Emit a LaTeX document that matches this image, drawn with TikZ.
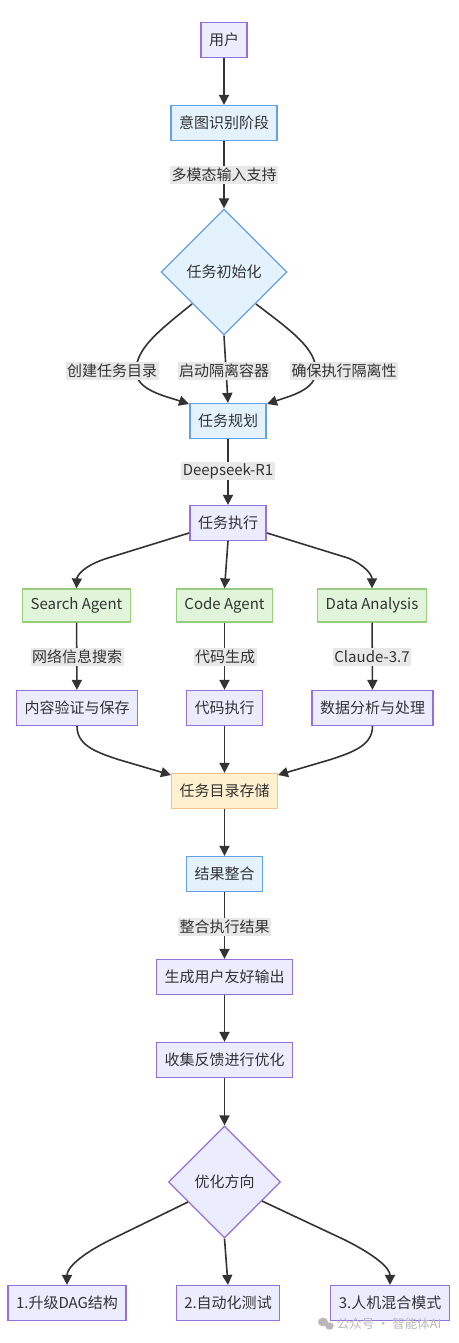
\documentclass[tikz,border=0pt]{standalone}
\usepackage{fontspec}
\setmainfont{Noto Sans CJK SC}
\usetikzlibrary{shapes.geometric,arrows.meta}
\definecolor{txt}{HTML}{333333}
\definecolor{pfill}{HTML}{ECECFF}
\definecolor{pdraw}{HTML}{9370DB}
\definecolor{bfill}{HTML}{E3F2FD}
\definecolor{bdraw}{HTML}{64A0E6}
\definecolor{gfill}{HTML}{E1F5DB}
\definecolor{gdraw}{HTML}{97CC7E}
\definecolor{ofill}{HTML}{FFF1D0}
\definecolor{odraw}{HTML}{F5C08A}
\definecolor{lblfill}{HTML}{E8E8E8}
\definecolor{wm}{HTML}{B8B8B8}
\tikzset{
  base/.style={rectangle, line width=1.2pt, text=txt, font=\fontsize{15}{18}\selectfont,
    minimum height=35pt, inner xsep=8pt, inner ysep=0pt},
  pbox/.style={base, fill=pfill, draw=pdraw},
  bbox/.style={base, fill=bfill, draw=bdraw},
  gbox/.style={base, fill=gfill, draw=gdraw, minimum height=33pt},
  obox/.style={base, fill=ofill, draw=odraw},
  dia/.style={diamond, aspect=1, inner sep=0pt, line width=1.2pt, text=txt,
    font=\fontsize{15}{18}\selectfont},
  lbl/.style={fill=lblfill, text=txt, font=\fontsize{15}{18}\selectfont,
    inner xsep=1.5pt, inner ysep=0pt, minimum height=18pt},
  edge/.style={draw=txt, line width=1.6pt, -{Triangle[length=10pt,width=10pt]}}
}
\begin{document}
\begin{tikzpicture}[x=1pt,y=-1pt]
\useasboundingbox (0,0) rectangle (458,1343);
\fill[white] (0,0) rectangle (458,1343);

% nodes
\node[pbox] (user) at (224,40) {用户};
\node[bbox] (intent) at (224,123) {意图识别阶段};
\node[dia, fill=bfill, draw=bdraw, minimum size=126pt] (init) at (224,272) {任务初始化};
\node[bbox] (plan) at (228,421) {任务规划};
\node[pbox] (exec) at (228,523) {任务执行};
\node[gbox] (search) at (76.5,605.5) {Search Agent};
\node[gbox] (code) at (224.5,605.5) {Code Agent};
\node[gbox] (data) at (372,605.5) {Data Analysis};
\node[pbox] (verify) at (77,708) {内容验证与保存};
\node[pbox] (run) at (224.5,708) {代码执行};
\node[pbox] (proc) at (372.5,708) {数据分析与处理};
\node[obox] (store) at (224.5,791) {任务目录存储};
\node[bbox] (merge) at (224.5,874) {结果整合};
\node[pbox] (out) at (224.5,977) {生成用户友好输出};
\node[pbox] (fb) at (224.5,1060) {收集反馈进行优化};
\node[dia, fill=pfill, draw=pdraw, minimum size=112pt] (opt) at (224.5,1182) {优化方向};
\node[pbox] (dag) at (67,1303) {1.升级DAG结构};
\node[pbox] (auto) at (228,1303) {2.自动化测试};
\node[pbox] (hybrid) at (390,1303) {3.人机混合模式};

% free ends of curved connectors
\coordinate (i1) at (192,304);
\coordinate (i3) at (256,304);
\coordinate (p1) at (189,404);
\coordinate (p3) at (267,404);
\coordinate (e1) at (189,533);
\coordinate (e3) at (267,533);
\coordinate (s1) at (171,775);
\coordinate (s3) at (278,775);
\coordinate (o1) at (188,1202);
\coordinate (o3) at (262,1201);

% connectors
\draw[edge] (user) -- (intent);
\draw[edge] (intent) -- (init);
\draw[edge] (i1) .. controls (160,330) and (136,348) .. (136,371) .. controls (136,390) and (165,396) .. (p1);
\draw[edge] (init.south) -- (plan.north);
\draw[edge] (i3) .. controls (290,330) and (316,348) .. (316,371) .. controls (316,390) and (290,396) .. (p3);
\draw[edge] (plan) -- (exec);
\draw[edge] (e1) -- (108,558) .. controls (85,565) and (77,575) .. (search.north);
\draw[edge] (exec.south) -- (code.north);
\draw[edge] (e3) -- (348,558) .. controls (365,565) and (372,575) .. (data.north);
\draw[edge] (search) -- (verify);
\draw[edge] (code) -- (run);
\draw[edge] (data) -- (proc);
\draw[edge] (verify.south) .. controls (77,745) and (95,752) .. (120,760) -- (s1);
\draw[edge] (run) -- (store);
\draw[edge] (proc.south) .. controls (372.5,745) and (354,752) .. (329,760) -- (s3);
\draw[edge] (store) -- (merge);
\draw[edge] (merge) -- (out);
\draw[edge] (out) -- (fb);
\draw[edge] (fb) -- (opt);
\draw[edge] (o1) -- (110,1240) .. controls (80,1255) and (67,1268) .. (dag.north);
\draw[edge] (opt.south) -- (auto.north);
\draw[edge] (o3) -- (345,1240) .. controls (375,1255) and (390,1268) .. (hybrid.north);

% edge labels
\node[lbl] (l1) at (224,175) {多模态输入支持};
\node[lbl] (l2) at (112,371) {创建任务目录};
\node[lbl] (l3) at (224,371) {启动隔离容器};
\node[lbl] (l4) at (344,371) {确保执行隔离性};
\node[lbl] (l5) at (228,471) {Deepseek-R1};
\node[lbl] (l6) at (77,657) {网络信息搜索};
\node[lbl] (l7) at (225,657) {代码生成};
\node[lbl] (l8) at (372,657) {Claude-3.7};
\node[lbl] (l9) at (224.5,927) {整合执行结果};

% watermark
\fill[wm] (323,1322) ellipse (5pt and 4.3pt);
\fill[wm] (329.5,1326) ellipse (4.3pt and 3.7pt);
\node[text=wm, font=\fontsize{12.5}{15}\selectfont, inner sep=0pt] (wmk) at (389,1324) {公众号 · 智能体AI};
\end{tikzpicture}
\end{document}
